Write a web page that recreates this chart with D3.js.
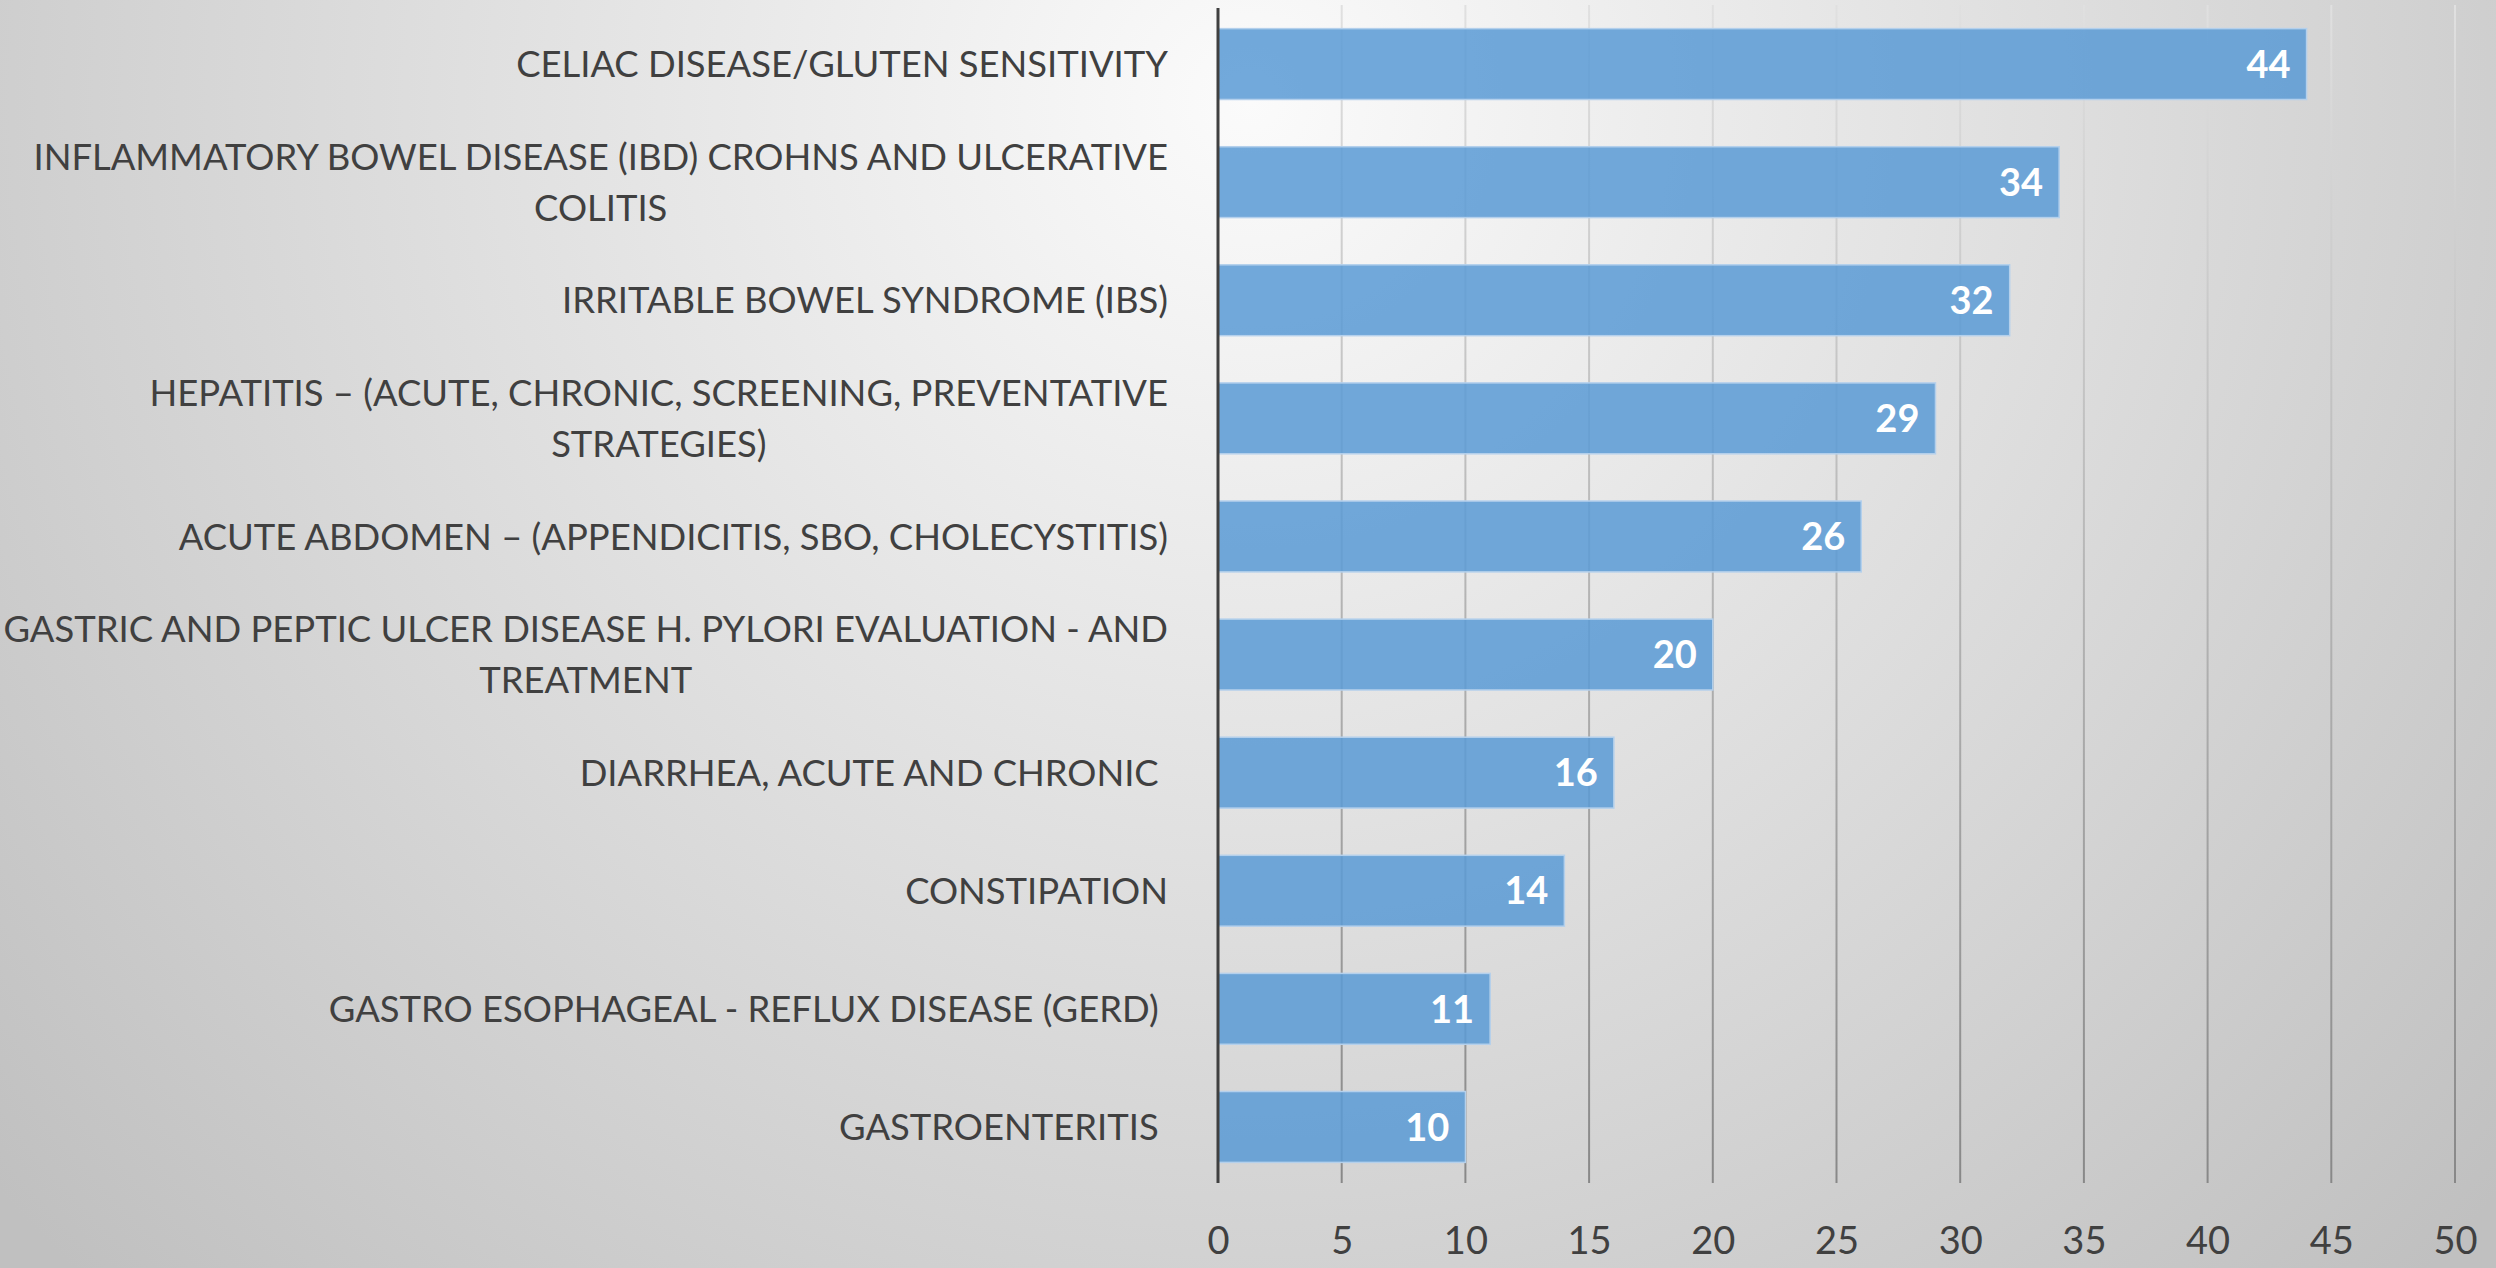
<!DOCTYPE html>
<html><head><meta charset="utf-8">
<script src="https://cdn.jsdelivr.net/npm/d3@7"></script>
<style>
html,body{margin:0;padding:0;overflow:hidden;}
svg{display:block;}
text{font-family:Lato,"Open Sans",sans-serif;}
</style></head>
<body>
<script>
const categories = [
  ["CELIAC DISEASE/GLUTEN SENSITIVITY"],
  ["INFLAMMATORY BOWEL DISEASE (IBD) CROHNS AND ULCERATIVE", "COLITIS"],
  ["IRRITABLE BOWEL SYNDROME (IBS)"],
  ["HEPATITIS \u2013 (ACUTE, CHRONIC, SCREENING, PREVENTATIVE", "STRATEGIES)"],
  ["ACUTE ABDOMEN \u2013 (APPENDICITIS, SBO, CHOLECYSTITIS)"],
  ["GASTRIC AND PEPTIC ULCER DISEASE H. PYLORI EVALUATION - AND", "TREATMENT"],
  ["DIARRHEA, ACUTE AND CHRONIC "],
  ["CONSTIPATION"],
  ["GASTRO ESOPHAGEAL - REFLUX DISEASE (GERD) "],
  ["GASTROENTERITIS "]
];
const values = [44, 34, 32, 29, 26, 20, 16, 14, 11, 10];
const xTicks = [0, 5, 10, 15, 20, 25, 30, 35, 40, 45, 50];

const W = 2496, H = 1268;
const svg = d3.select("body").append("svg").attr("width", W).attr("height", H);
const defs = svg.append("defs");
const bg = defs.append("radialGradient").attr("id","bg").attr("gradientUnits","userSpaceOnUse")
  .attr("cx",1250).attr("cy",100).attr("r",1660);
bg.append("stop").attr("offset","0").attr("stop-color","#fbfbfb");
bg.append("stop").attr("offset","1").attr("stop-color","#c0c0c0");
const gg = defs.append("linearGradient").attr("id","grid").attr("gradientUnits","userSpaceOnUse")
  .attr("x1",0).attr("y1",5).attr("x2",0).attr("y2",1183);
gg.append("stop").attr("offset","0").attr("stop-color","#e0e0e0");
gg.append("stop").attr("offset","1").attr("stop-color","#888888");

svg.append("rect").attr("width",W).attr("height",H).attr("fill","url(#bg)");

const x = d3.scaleLinear().domain([0, 50]).range([1218, 2455]);
const y = d3.scaleBand().domain(d3.range(values.length)).range([5, 1186]).paddingInner(0.4).paddingOuter(0.2);
const plotBottom = 1183;

// gridlines
svg.append("g").selectAll("line").data(xTicks.slice(1)).join("line")
  .attr("x1", d => x(d)).attr("x2", d => x(d))
  .attr("y1", 5).attr("y2", plotBottom)
  .attr("stroke", "url(#grid)").attr("stroke-width", 2);

// bars
svg.append("g").selectAll("rect").data(values).join("rect")
  .attr("x", x(0)).attr("y", (d,i) => y(i))
  .attr("width", d => x(d) - x(0)).attr("height", y.bandwidth())
  .attr("fill", "#5b9bd5").attr("fill-opacity", 0.86)
  .attr("stroke", "#b4d0ec").attr("stroke-width", 1.5);

// value labels
svg.append("g").selectAll("text").data(values).join("text")
  .attr("x", d => x(d) - 16).attr("y", (d,i) => y(i) + y.bandwidth()/2)
  .attr("dy", "0.36em").attr("text-anchor", "end")
  .attr("fill", "#ffffff").attr("font-weight", "bold").attr("font-size", 38)
  .text(d => d);

// axis line
svg.append("line").attr("x1", x(0)).attr("x2", x(0)).attr("y1", 8).attr("y2", plotBottom)
  .attr("stroke", "#404040").attr("stroke-width", 3);

// x tick labels
const xAxis = d3.axisBottom(x).tickValues(xTicks).tickSize(0).tickPadding(0);
const xa = svg.append("g").attr("transform", `translate(0, 1254)`).call(xAxis);
xa.select(".domain").remove();
xa.selectAll("text").attr("y", 0).attr("dy", 0).attr("fill", "#404040")
  .attr("font-size", 38).attr("font-family", "Lato, 'Open Sans', sans-serif");

// category labels
const labelRight = 1168, lineGap = 51;
const lg = svg.append("g");
categories.forEach((lines, i) => {
  const cy = y(i) + y.bandwidth()/2;
  const texts = lines.map((ln, k) => lg.append("text")
    .attr("xml:space", "preserve").style("white-space", "pre")
    .attr("fill", "#404040").attr("font-size", 36.4)
    .attr("y", cy + (k - (lines.length-1)/2) * lineGap).attr("dy", "0.36em")
    .text(ln));
  const maxW = d3.max(texts, t => t.node().getComputedTextLength());
  const cx = labelRight - maxW/2;
  texts.forEach(t => t.attr("x", cx).attr("text-anchor", "middle"));
});
</script>
</body></html>
